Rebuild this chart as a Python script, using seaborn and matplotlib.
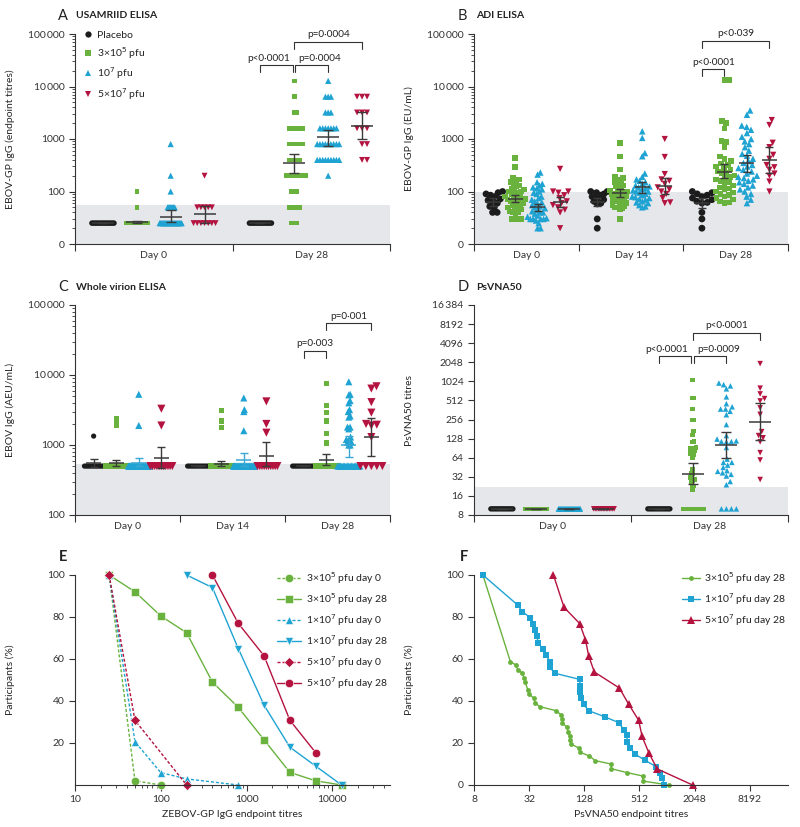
import numpy as np
import pandas as pd
import matplotlib
matplotlib.use('Agg')
import matplotlib.pyplot as plt
import matplotlib.transforms as mtrans
from matplotlib.lines import Line2D
from matplotlib.ticker import NullLocator
import seaborn as sns

sns.set_style('ticks')
plt.rcParams['font.family'] = ['Lato', 'DejaVu Sans']
plt.rcParams.update({'font.size': 7.5, 'axes.linewidth': 0.8, 'axes.edgecolor': '#333333',
                     'xtick.color': '#333333', 'ytick.color': '#333333', 'text.color': '#222222',
                     'xtick.major.width': 0.8, 'ytick.major.width': 0.8,
                     'xtick.minor.width': 0.6, 'ytick.minor.width': 0.6,
                     'xtick.major.size': 4, 'ytick.major.size': 4, 'ytick.minor.size': 2.2})

groups = ['Placebo', '3e5', '1e7', '5e7']
pal = {'Placebo': '#1c1c1c', '3e5': '#6ab23e', '1e7': '#1fa3d2', '5e7': '#b4123f'}
mk = {'Placebo': 'o', '3e5': 's', '1e7': '^', '5e7': 'v'}
shade = '#e5e7eb'

# ---- A: USAMRIID ELISA (endpoint titres)
a_days = ['Day 0', 'Day 28']
a_d0_placebo = [25] * 13
a_d0_low = [25] * 38 + [50, 100]
a_d0_mid = [25] * 23 + [50] * 8 + [100, 200, 800]
a_d0_high = [25] * 7 + [50] * 5 + [200]
a_d28_placebo = [25] * 13
a_d28_low = [25] * 3 + [50] * 5 + [100] * 3 + [200] * 8 + [400] * 5 + [800] * 6 + [1600] * 6 + [3200] * 2 + [6400, 12800]
a_d28_mid = [200] + [400] * 9 + [800] * 9 + [1600] * 7 + [3200] * 3 + [6400] * 3 + [12800]
a_d28_high = [400] * 2 + [800] * 2 + [1600] * 3 + [3200] * 3 + [6400] * 3
a_gmt = [[25, 26, 33, 37], [25, 350, 1070, 1780]]
a_lo = [[25, 25, 26, 25.5], [25, 225, 740, 980]]
a_hi = [[25, 28, 44, 53], [25, 520, 1480, 3200]]

# ---- B: ADI ELISA (EU/mL)
b_days = ['Day 0', 'Day 14', 'Day 28']
b_d0_placebo = [100, 95, 90, 85, 80, 72, 68, 65, 60, 52, 50, 40, 40]
b_d0_low = [430, 290, 180, 170, 165, 150, 140, 130, 125, 115, 110, 105, 100, 100, 95, 90, 85, 80, 78, 75,
            72, 70, 68, 65, 62, 60, 58, 55, 52, 50, 48, 45, 42, 40, 40, 38, 30, 30, 30, 30]
b_d0_mid = [230, 210, 150, 140, 130, 120, 115, 110, 100, 95, 90, 80, 75, 70, 65, 62, 60, 55, 52, 50,
            48, 45, 42, 40, 40, 38, 35, 33, 31, 30, 30, 30, 30, 28, 25, 20, 20]
b_d0_high = [270, 100, 100, 95, 85, 75, 65, 60, 55, 50, 45, 40, 20]
b_d14_placebo = [100, 100, 95, 90, 85, 80, 75, 70, 65, 60, 58, 30, 20]
b_d14_low = [840, 460, 260, 190, 180, 170, 160, 150, 140, 130, 125, 120, 110, 105, 100, 100, 95, 90, 90,
             85, 80, 80, 75, 72, 70, 68, 65, 62, 60, 58, 55, 52, 50, 50, 48, 45, 30]
b_d14_mid = [1400, 1050, 540, 470, 220, 190, 170, 160, 150, 140, 130, 125, 120, 115, 110, 105, 100, 100,
             95, 90, 85, 80, 78, 75, 72, 70, 65, 62, 60, 55, 52, 50]
b_d14_high = [1000, 455, 215, 170, 160, 140, 120, 110, 100, 90, 75, 62, 60]
b_d28_placebo = [100, 95, 90, 85, 80, 75, 70, 65, 62, 60, 40, 30, 20]
b_d28_low = [13200, 13200, 2200, 2000, 1600, 920, 880, 700, 460, 420, 380, 340, 320, 300, 280, 260, 240,
             230, 220, 200, 190, 180, 170, 160, 150, 140, 130, 120, 115, 110, 100, 95, 90, 85, 80, 75, 70,
             65, 62, 60]
b_d28_mid = [3500, 2900, 1800, 1700, 1500, 1300, 1100, 1000, 900, 800, 700, 600, 520, 480, 420, 380, 350,
             320, 300, 280, 260, 240, 220, 200, 190, 180, 170, 160, 150, 140, 130, 120, 110, 100, 90, 80,
             70, 60]
b_d28_high = [2300, 1850, 850, 700, 500, 420, 320, 290, 260, 220, 200, 155, 100]
b_gmt = [[63, 73, 50, 63], [62, 94, 123, 128], [60, 240, 345, 400]]
b_lo = [[53, 62, 43, 50], [52, 78, 95, 88], [48, 178, 240, 225]]
b_hi = [[75, 84, 58, 80], [75, 112, 155, 180], [75, 330, 500, 690]]

# ---- C: whole virion ELISA (AEU/mL)
c_days = ['Day 0', 'Day 14', 'Day 28']
c_d0_placebo = [1340] + [500] * 12
c_d0_low = [2400, 2150, 1900] + [500] * 37
c_d0_mid = [5300, 1900] + [500] * 34
c_d0_high = [3300, 1900] + [500] * 11
c_d14_placebo = [500] * 13
c_d14_low = [3100, 2200, 1800] + [500] * 36
c_d14_mid = [4700, 3200, 3000, 1600] + [500] * 32
c_d14_high = [4200, 2000, 1500] + [500] * 10
c_d28_placebo = [500] * 13
c_d28_low = [7600, 3700, 2900, 2200, 1450, 1100, 1050] + [500] * 33
c_d28_mid = [8000, 5300, 5200, 4300, 4000, 3200, 3000, 2600, 2500, 1800, 1800, 1700, 1300, 1200, 1200,
             1100, 1100, 1000, 1000] + [500] * 17
c_d28_high = [6900, 6400, 4100, 2900, 2000, 1950, 1900, 1300] + [500] * 5
c_gmt = [[545, 545, 560, 650], [500, 540, 620, 700], [500, 620, 1000, 1300]]
c_lo = [[480, 500, 500, 470], [500, 500, 500, 500], [500, 520, 665, 690]]
c_hi = [[640, 610, 660, 930], [500, 600, 775, 1120], [500, 740, 1340, 2400]]

# ---- D: PsVNA50 titres
d_days = ['Day 0', 'Day 28']
d_d0_placebo = [10] * 13
d_d0_low = [10] * 44
d_d0_mid = [10] * 35
d_d0_high = [10] * 14
d_d28_placebo = [10] * 13
d_d28_low = [10] * 14 + [20, 23, 24, 27, 28, 29, 31, 32, 36, 37, 42, 63, 72, 74, 74, 83, 85, 89, 90, 92,
                         113, 115, 146, 169, 251, 251, 375, 556, 556, 1073]
d_d28_mid = [10] * 4 + [24, 27, 33, 35, 37, 39, 40, 45, 49, 54, 54, 61, 93, 114, 115, 115, 118, 126, 143,
                        213, 305, 345, 375, 375, 407, 455, 584, 781, 869, 909, 963]
d_d28_high = [29, 59, 77, 114, 132, 143, 165, 309, 391, 503, 548, 649, 799, 1950]
d_gmt = [[10, 10, 10, 10], [10, 36, 102, 237]]
d_lo = [[10, 10, 10, 10], [10, 25, 63, 122]]
d_hi = [[10, 10, 10, 10], [10, 52, 165, 460]]

# ---- E: reverse cumulative, ZEBOV-GP IgG endpoint titres
e_low_d0_x = [25, 50, 100]
e_low_d0_y = [100, 2, 0]
e_low_d28_x = [25, 50, 100, 200, 400, 800, 1600, 3200, 6400, 12800]
e_low_d28_y = [100, 92, 80.5, 72.5, 49, 37, 21.5, 6, 2, 0]
e_mid_d0_x = [25, 50, 100, 200, 800]
e_mid_d0_y = [100, 20.6, 5.9, 2.9, 0]
e_mid_d28_x = [200, 400, 800, 1600, 3200, 6400, 12800]
e_mid_d28_y = [100, 94, 65, 38, 18, 9, 0]
e_high_d0_x = [25, 50, 200]
e_high_d0_y = [100, 30.8, 0]
e_high_d28_x = [400, 800, 1600, 3200, 6400]
e_high_d28_y = [100, 77, 61.5, 30.8, 15.4]

# ---- F: reverse cumulative, PsVNA50 endpoint titres
f_low_x = [10, 20, 23, 24, 27, 28, 29, 31, 32, 36, 37, 42, 63, 72, 74, 74, 83, 85, 89, 90, 92, 113, 115,
           146, 169, 251, 251, 375, 556, 556, 1073]
f_low_y = [100, 58.7, 57.1, 55, 53.2, 51.1, 49, 45.2, 43.3, 41.3, 39.2, 37.3, 35.4, 33.3, 31.3, 29.4,
           27.5, 25.4, 23.3, 21.4, 19.5, 17.5, 15.6, 13.8, 11.6, 10, 7.8, 5.9, 4.3, 1.9, 0]
f_mid_x = [10, 24, 27, 33, 35, 37, 39, 40, 45, 49, 54, 54, 61, 114, 115, 115, 118, 126, 143, 213, 305,
           345, 375, 375, 407, 455, 584, 781, 869, 909, 963]
f_mid_y = [100, 85.7, 82.5, 79.7, 76.9, 73.8, 71, 67.8, 64.8, 61.9, 58.7, 56, 53.2, 50.3, 47.1, 44.1,
           41.3, 38.4, 35.4, 32.5, 29.7, 26.4, 23.8, 20.6, 17.8, 14.8, 11.9, 8.7, 5.9, 3.2, 0]
f_high_x = [59, 77, 114, 132, 143, 165, 309, 391, 503, 548, 649, 799, 1950]
f_high_y = [100, 84.6, 76.9, 69.2, 61.5, 53.8, 46.2, 38.5, 30.8, 23.1, 15.4, 7.7, 0]

W, H = 800, 827
fig = plt.figure(figsize=(W / 100, H / 100), dpi=100)


def add_ax(l, t, r, b):
    return fig.add_axes([l / W, 1 - b / H, (r - l) / W, (b - t) / H])


def hx(i, j):
    return i + (j - 1.5) * 0.215


def swarm(yp, d):
    xs = np.zeros(len(yp))
    done = []
    for i in np.argsort(yp, kind='stable'):
        near = [j for j in done if abs(yp[j] - yp[i]) < d]
        cands = [0.0]
        for j in near:
            dx = np.sqrt(d ** 2 - (yp[j] - yp[i]) ** 2)
            cands += [xs[j] + dx, xs[j] - dx]
        for c in sorted(cands, key=abs):
            if all((xs[j] - c) ** 2 + (yp[j] - yp[i]) ** 2 >= d ** 2 - 1e-6 for j in near):
                xs[i] = c
                break
        done.append(i)
    return xs


def dot_panel(ax, days, data, gmt, lo, hi, ylim, shade_top, base, sizes, d_px, wmax, bar_px, cap_px,
              bar_cols=None):
    ax.set_yscale('log', base=base)
    ax.set_ylim(*ylim)
    ax.set_xlim(-0.5, len(days) - 0.5)
    ax.axhspan(ylim[0], shade_top, color=shade, lw=0, zorder=0)
    p0 = ax.transData.transform([(0, ylim[0]), (1, ylim[0])])
    px_cat = p0[1, 0] - p0[0, 0]
    rows = []
    for i in range(len(days)):
        for j, g in enumerate(groups):
            vals = np.array(data[i][j], float)
            yp = ax.transData.transform(np.c_[np.zeros(len(vals)), vals])[:, 1]
            xs = swarm(yp, d_px)
            m = np.abs(xs).max()
            if m > wmax / 2:
                xs *= wmax / 2 / m
            for xv, v in zip(hx(i, j) + xs / px_cat, vals):
                rows.append((xv, v, g))
    df = pd.DataFrame(rows, columns=['x', 'val', 'grp'])
    sns.scatterplot(data=df, x='x', y='val', hue='grp', style='grp', size='grp', palette=pal, markers=mk,
                    sizes=sizes, linewidth=0, legend=False, ax=ax, zorder=2, clip_on=False)
    bw = bar_px / px_cat / 2
    for i in range(len(days)):
        for j in range(4):
            col = bar_cols[j] if bar_cols else '#3a3a3a'
            x = hx(i, j)
            ax.hlines(gmt[i][j], x - bw, x + bw, color=col, lw=1.1, zorder=3)
            ax.errorbar(x, gmt[i][j], yerr=[[gmt[i][j] - lo[i][j]], [hi[i][j] - gmt[i][j]]], fmt='none',
                        ecolor=col, elinewidth=1.0, capsize=cap_px * 0.36, capthick=1.0, zorder=3)
    ax.set_xticks(np.arange(len(days) + 1) - 0.5)
    ax.set_xticklabels([])
    ax.set_xticks(range(len(days)), days, minor=True)
    ax.tick_params(axis='x', which='minor', length=0, pad=5, labelsize=7.5)
    ax.tick_params(axis='x', which='major', length=5)
    ax.tick_params(axis='y', labelsize=7.5)
    ax.set_xlabel('')
    sns.despine(ax=ax)


def bracket(ax, x0, x1, yf, text, shift=0, drop=0.032):
    tr = mtrans.blended_transform_factory(ax.transData, ax.transAxes)
    ax.plot([x0, x0, x1, x1], [yf - drop, yf, yf, yf - drop], color='#333333', lw=0.8, transform=tr,
            clip_on=False)
    ttr = mtrans.offset_copy(tr, fig=fig, x=shift, y=0, units='dots')
    ax.text((x0 + x1) / 2, yf + 0.012, text, ha='center', va='bottom', transform=ttr, fontsize=7.2)


def title(x, y, letter, name, bold_letter=False):
    fig.text(x / W, 1 - y / H, letter, fontsize=10.5, va='center',
             fontweight='bold' if bold_letter else 'normal')
    if name:
        fig.text((x + 18) / W, 1 - y / H, name, fontsize=7.5, fontweight='bold', va='center')


def pow_labels(ticks, zero_first=False):
    labs = []
    for t in ticks:
        s = str(int(t))
        if len(s) >= 5:
            s = s[:-3] + '\u2009' + s[-3:]
        labs.append(s)
    if zero_first:
        labs[0] = '0'
    return labs


# ---- panel A
axA = add_ax(75, 34, 390, 244)
dot_panel(axA, a_days,
          [[a_d0_placebo, a_d0_low, a_d0_mid, a_d0_high], [a_d28_placebo, a_d28_low, a_d28_mid, a_d28_high]],
          a_gmt, a_lo, a_hi, (10, 100000), 55, 10,
          {'Placebo': 16, '3e5': 11, '1e7': 20, '5e7': 18}, 5, 22, 22, 10)
ta = [10, 100, 1000, 10000, 100000]
axA.set_yticks(ta, pow_labels(ta, True))
axA.set_ylabel('EBOV-GP IgG (endpoint titres)')
axA.yaxis.set_label_coords(-0.19, 0.5)
bracket(axA, hx(1, 0), hx(1, 1) - 0.006, 0.852, 'p<0·0001', shift=-8)
bracket(axA, hx(1, 1) + 0.006, hx(1, 2), 0.852, 'p=0·0004', shift=8)
bracket(axA, hx(1, 1), hx(1, 3), 0.962, 'p=0·0004')
handles = [Line2D([], [], ls='none', marker=mk[g], color=pal[g], ms=m, mew=0)
           for g, m in zip(groups, [4.5, 4, 5, 5])]
axA.legend(handles, ['Placebo', '3×10$^5$ pfu', '10$^7$ pfu', '5×10$^7$ pfu'], loc='upper left',
           bbox_to_anchor=(0.01, 1.04), frameon=False, handlelength=0.8, handletextpad=0.5,
           labelspacing=0.45, fontsize=7.5, borderpad=0)
title(58, 16, 'A', 'USAMRIID ELISA')

# ---- panel B
axB = add_ax(474, 34, 788, 244)
dot_panel(axB, b_days,
          [[b_d0_placebo, b_d0_low, b_d0_mid, b_d0_high], [b_d14_placebo, b_d14_low, b_d14_mid, b_d14_high],
           [b_d28_placebo, b_d28_low, b_d28_mid, b_d28_high]],
          b_gmt, b_lo, b_hi, (10, 100000), 100, 10,
          {'Placebo': 24, '3e5': 16, '1e7': 22, '5e7': 20}, 5.5, 20, 15, 8)
axB.set_yticks(ta, pow_labels(ta, True))
axB.set_ylabel('EBOV-GP IgG (EU/mL)')
axB.yaxis.set_label_coords(-0.19, 0.5)
bracket(axB, hx(2, 0), hx(2, 1), 0.833, 'p<0·0001')
bracket(axB, hx(2, 0), hx(2, 3), 0.967, 'p<0·039')
title(458, 16, 'B', 'ADI ELISA')

# ---- panel C
axC = add_ax(75, 305, 390, 515)
dot_panel(axC, c_days,
          [[c_d0_placebo, c_d0_low, c_d0_mid, c_d0_high], [c_d14_placebo, c_d14_low, c_d14_mid, c_d14_high],
           [c_d28_placebo, c_d28_low, c_d28_mid, c_d28_high]],
          c_gmt, c_lo, c_hi, (100, 100000), 540, 10,
          {'Placebo': 14, '3e5': 14, '1e7': 26, '5e7': 34}, 6, 22, 15, 8,
          bar_cols=['#3a3a3a', '#3a3a3a', '#39a8d4', '#3a3a3a'])
tc = [100, 1000, 10000, 100000]
axC.set_yticks(tc, pow_labels(tc))
axC.set_ylabel('EBOV IgG (AEU/mL)')
axC.yaxis.set_label_coords(-0.19, 0.5)
bracket(axC, hx(2, 0), hx(2, 1), 0.781, 'p=0·003')
bracket(axC, hx(2, 1), hx(2, 3), 0.914, 'p=0·001')
title(58, 287, 'C', 'Whole virion ELISA')

# ---- panel D
axD = add_ax(474, 305, 788, 515)
dot_panel(axD, d_days,
          [[d_d0_placebo, d_d0_low, d_d0_mid, d_d0_high], [d_d28_placebo, d_d28_low, d_d28_mid, d_d28_high]],
          d_gmt, d_lo, d_hi, (8, 16384), 22, 2,
          {'Placebo': 15, '3e5': 11, '1e7': 16, '5e7': 16}, 5, 22, 22, 10)
td = [8, 16, 32, 64, 128, 256, 512, 1024, 2048, 4096, 8192, 16384]
axD.set_yticks(td, pow_labels(td))
axD.yaxis.set_minor_locator(NullLocator())
axD.set_ylabel('PsVNA50 titres')
axD.yaxis.set_label_coords(-0.19, 0.5)
bracket(axD, hx(1, 0), hx(1, 1) - 0.01, 0.757, 'p<0·0001', shift=-8)
bracket(axD, hx(1, 1) + 0.01, hx(1, 2), 0.757, 'p=0·0009', shift=8)
bracket(axD, hx(1, 1), hx(1, 3), 0.867, 'p<0·0001')
title(458, 287, 'D', 'PsVNA50')

# ---- panel E
axE = add_ax(75, 575, 390, 785)
axE.set_xscale('log')
dash = (0, (2.2, 1.4))
e_series = [
    (e_low_d0_x, e_low_d0_y, '3e5', 'o', dash, '3×10$^5$ pfu day 0'),
    (e_low_d28_x, e_low_d28_y, '3e5', 's', '-', '3×10$^5$ pfu day 28'),
    (e_mid_d0_x, e_mid_d0_y, '1e7', '^', dash, '1×10$^7$ pfu day 0'),
    (e_mid_d28_x, e_mid_d28_y, '1e7', 'v', '-', '1×10$^7$ pfu day 28'),
    (e_high_d0_x, e_high_d0_y, '5e7', 'D', dash, '5×10$^7$ pfu day 0'),
    (e_high_d28_x, e_high_d28_y, '5e7', 'o', '-', '5×10$^7$ pfu day 28'),
]
for x, y, g, m, ls, lab in e_series:
    sns.lineplot(x=x, y=y, estimator=None, sort=False, color=pal[g], marker=m, linestyle=ls, lw=1.0,
                 ms=6 if m != 'D' else 5, mec='white', mew=0.4, ax=axE, label=lab, clip_on=False)
axE.set_xlim(10, 47000)
axE.set_ylim(0, 100)
axE.set_xticks([10, 100, 1000, 10000], ['10', '100', '1000', '10000'])
axE.set_yticks([20, 40, 60, 80, 100])
axE.tick_params(labelsize=7.5)
axE.tick_params(axis='x', which='minor', length=2.2)
axE.set_xlabel('ZEBOV-GP IgG endpoint titres')
axE.set_ylabel('Participants (%)')
axE.yaxis.set_label_coords(-0.19, 0.5)
axE.legend(loc='upper right', bbox_to_anchor=(1.01, 1.05), frameon=False, handlelength=2.3,
           handletextpad=0.5, labelspacing=0.5, fontsize=7.5, borderpad=0)
sns.despine(ax=axE)
title(59, 557, 'E', '', bold_letter=True)

# ---- panel F
axF = add_ax(474, 575, 788, 785)
axF.set_xscale('log', base=2)
f_series = [
    (f_low_x, f_low_y, '3e5', 'o', 3.5, '3×10$^5$ pfu day 28'),
    (f_mid_x, f_mid_y, '1e7', 's', 3.8, '1×10$^7$ pfu day 28'),
    (f_high_x, f_high_y, '5e7', '^', 6, '5×10$^7$ pfu day 28'),
]
for x, y, g, m, ms, lab in f_series:
    sns.lineplot(x=x, y=y, estimator=None, sort=False, color=pal[g], marker=m, lw=1.0, ms=ms, mew=0,
                 ax=axF, label=lab, clip_on=False)
axF.set_xlim(8, 21500)
axF.set_ylim(0, 100)
tf = [8, 32, 128, 512, 2048, 8192]
axF.set_xticks(tf, [str(t) for t in tf])
axF.xaxis.set_minor_locator(NullLocator())
axF.set_yticks([0, 20, 40, 60, 80, 100])
axF.tick_params(labelsize=7.5)
axF.set_xlabel('PsVNA50 endpoint titres')
axF.set_ylabel('Participants (%)')
axF.yaxis.set_label_coords(-0.19, 0.5)
axF.legend(loc='upper right', bbox_to_anchor=(1.01, 1.05), frameon=False, handlelength=1.7,
           handletextpad=0.4, labelspacing=0.5, fontsize=7.5, borderpad=0)
sns.despine(ax=axF)
title(460, 557, 'F', '', bold_letter=True)

fig.savefig('out.png', dpi=100)
